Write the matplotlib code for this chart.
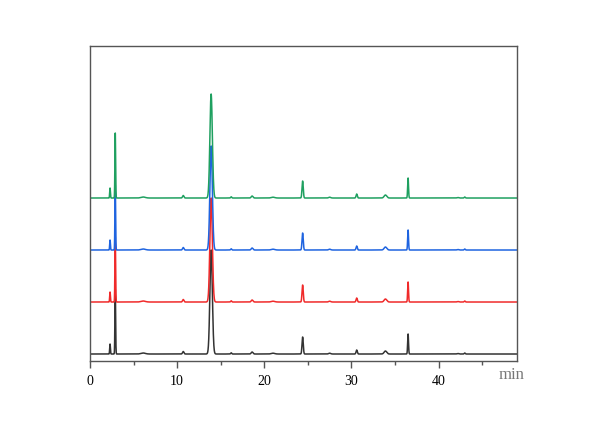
import numpy as np
import matplotlib.pyplot as plt

# Peak table (retention time in min, height, sigma in min)
rt = [2.3, 2.9, 6.1, 10.7, 13.9, 16.2, 18.6, 21.0, 24.4, 27.5, 30.6, 33.9, 36.5, 42.2, 43.0]
height = [10, 65, 1, 2.5, 104, 1.2, 2, 0.8, 17, 0.8, 4, 3, 20, 0.5, 1]
sigma = [0.04, 0.04, 0.25, 0.08, 0.14, 0.06, 0.1, 0.2, 0.07, 0.12, 0.07, 0.15, 0.05, 0.1, 0.06]

# Four injections, stacked bottom to top
names = ["black", "red", "blue", "green"]
offsets = [0, 52, 104, 156]
colors = ["#333333", "#f02a2a", "#1f64e0", "#1fa060"]

t = np.linspace(0, 49, 6000)
trace = np.zeros_like(t)
for r, h, s in zip(rt, height, sigma):
    trace += h * np.exp(-0.5 * ((t - r) / s) ** 2)

fig = plt.figure(figsize=(6, 4.21), dpi=100)
ax = fig.add_axes([0.15, 0.1425, 0.7117, 0.7482])

for name, off, c in zip(names, offsets, colors):
    ax.plot(t, trace + off, color=c, lw=1.1)

ax.set_xlim(0, 49)
ax.set_ylim(-7, 308)
ax.set_yticks([])
ax.set_xticks([0, 10, 20, 30, 40])
ax.set_xticks([5, 15, 25, 35, 45], minor=True)
ax.tick_params(axis="x", which="major", length=5, width=1, color="#555555",
               labelsize=10, pad=5)
ax.tick_params(axis="x", which="minor", length=3, width=1, color="#555555")
for lab in ax.get_xticklabels():
    lab.set_fontfamily("Liberation Serif")
for sp in ax.spines.values():
    sp.set_color("#555555")
    sp.set_linewidth(1.0)

ax.text(0.986, -0.045, "min", transform=ax.transAxes, ha="center", va="center",
        fontsize=12, color="#777777", family="Liberation Serif")

fig.savefig("out.png", dpi=100)
